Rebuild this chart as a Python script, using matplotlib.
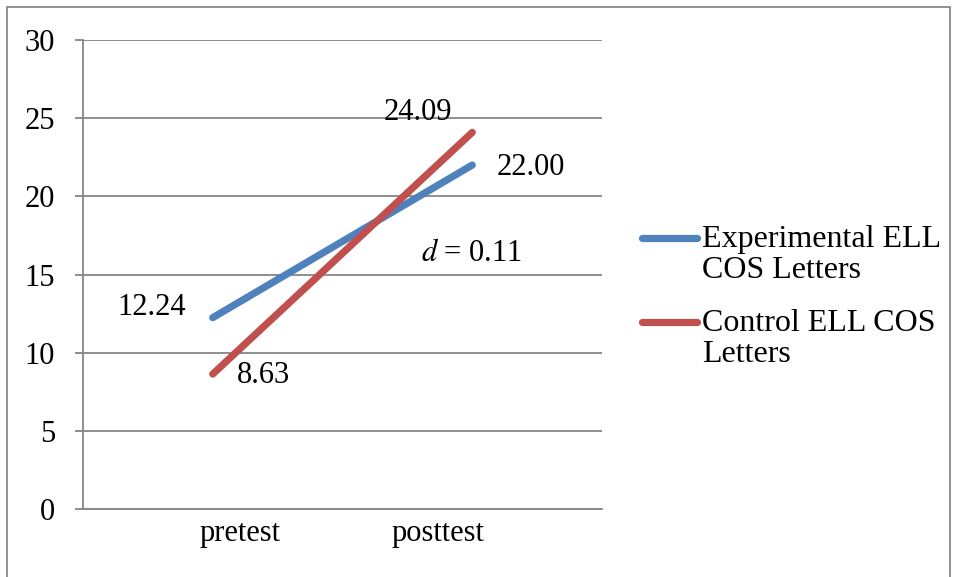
import matplotlib.pyplot as plt
import matplotlib.transforms as mtransforms
from matplotlib.lines import Line2D
from matplotlib.patches import Rectangle

categories = ["pretest", "posttest"]
experimental = [12.24, 22.00]
control = [8.63, 24.09]
series_names = ["Experimental ELL\nCOS Letters", "Control ELL COS\nLetters"]
colors = ['#4F81BD', '#C0504D']
yticks = [0, 5, 10, 15, 20, 25, 30]

plt.rcParams['font.family'] = ['Liberation Serif', 'DejaVu Serif']
FS = 22

fig = plt.figure(figsize=(9.56, 5.77), dpi=100)
ax = fig.add_axes([83/956, 1 - 509/577, (602-83)/956, (509-40)/577])

# outer border (bottom edge falls off the image)
fig.patches.append(Rectangle((7/956, -0.01), (950-7)/956, 1 - 7/577 + 0.01,
                             transform=fig.transFigure, fill=False,
                             edgecolor='#888888', linewidth=1.3))

x = [0, 1]
ax.plot(x, experimental, color=colors[0], linewidth=5.2, solid_capstyle='round', zorder=3)
ax.plot(x, control, color=colors[1], linewidth=5.2, solid_capstyle='round', zorder=3)

ax.set_xlim(-0.5, 1.5)
ax.set_ylim(0, 30)
ax.set_yticks(yticks)
ax.set_xticks([])
# category labels, placed as in the original (not under the points)
for xi, c, dx in zip(x, categories, [27, -34]):
    tr = ax.get_xaxis_transform() + mtransforms.ScaledTranslation(dx/100, 0, fig.dpi_scale_trans)
    ax.text(xi, -25/469, c, transform=tr, ha='center', va='center', fontsize=FS)
ax.tick_params(axis='y', labelsize=FS, length=6, color='#868686', width=1.3, pad=14)
ax.grid(axis='y', color='#868686', linewidth=1.3)
ax.set_axisbelow(True)
for s in ['top', 'right']:
    ax.spines[s].set_visible(False)
for s in ['bottom', 'left']:
    ax.spines[s].set_color('#868686')
    ax.spines[s].set_linewidth(1.3)

# data labels
ax.annotate(f"{experimental[0]:.2f}", (x[0], experimental[0]), xytext=(-27, 10),
            textcoords='offset pixels', ha='right', va='center', fontsize=FS)
ax.annotate(f"{control[0]:.2f}", (x[0], control[0]), xytext=(24, -1),
            textcoords='offset pixels', ha='left', va='center', fontsize=FS)
ax.annotate(f"{control[1]:.2f}", (x[1], control[1]), xytext=(-20, 20),
            textcoords='offset pixels', ha='right', va='center', fontsize=FS)
ax.annotate(f"{experimental[1]:.2f}", (x[1], experimental[1]), xytext=(24, -2),
            textcoords='offset pixels', ha='left', va='center', fontsize=FS)
ax.text(472/956, 1 - 253/577, r"$d$ = 0.11", transform=fig.transFigure,
        ha='center', va='center', fontsize=FS, math_fontfamily='stix')

# legend, drawn by hand so the key sits on the first text line
for i, (name, col) in enumerate(zip(series_names, colors)):
    yc = (238 + 84 * i)
    fig.add_artist(Line2D([642/956, 697/956], [1 - yc/577] * 2, color=col,
                          linewidth=5.2, solid_capstyle='round', transform=fig.transFigure))
    fig.text(702/956, 1 - (yc - 13)/577, name, ha='left', va='top', fontsize=23,
             linespacing=1.07)

fig.savefig('out.png', dpi=100)
